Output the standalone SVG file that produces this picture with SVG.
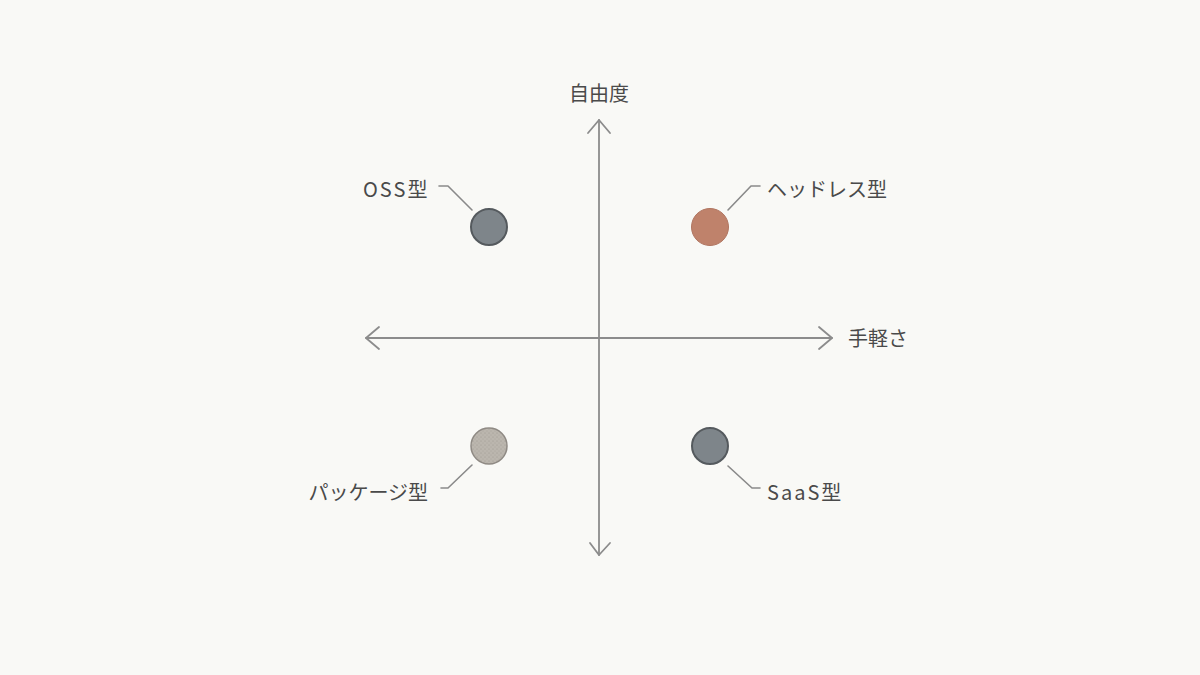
<svg xmlns="http://www.w3.org/2000/svg" width="1200" height="675" viewBox="0 0 1200 675">
<style>
.axis{stroke:#8c8c8c;stroke-width:1.8;fill:none;stroke-linecap:round;stroke-linejoin:round}
.lead{stroke:#8a8a8a;stroke-width:1.6;fill:none;stroke-linecap:round;stroke-linejoin:round}
.lbl{font-family:"Noto Sans CJK JP","Noto Sans",sans-serif;font-size:20px;fill:#4a4a4a}
.lat{letter-spacing:2px}
.dot{stroke:#555a5e;stroke-width:2}
</style>
<defs>
<pattern id="stip" width="4" height="4" patternUnits="userSpaceOnUse">
<rect width="4" height="4" fill="#bbb6ae"/>
<circle cx="1" cy="1" r="0.6" fill="#9d978f"/>
<circle cx="3" cy="3" r="0.6" fill="#a8a39b"/>
</pattern>
</defs>
<rect width="1200" height="675" fill="#f9f9f6"/>
<g id="connectors">
<path class="axis" d="M599,120 L599,555"/>
<path class="axis" d="M588,133 L599,120 L610,133"/>
<path class="axis" d="M590,543 L599,555 L610,543"/>
<path class="axis" d="M366,338 L832,338"/>
<path class="axis" d="M379,327 L366,338 L379,349"/>
<path class="axis" d="M819,327 L832,338 L819,349"/>
<path class="lead" d="M439,186 L448,186 L472,210"/>
<path class="lead" d="M760,186 L751,186 L728,210"/>
<path class="lead" d="M441,488 L448,488 L472,465"/>
<path class="lead" d="M760,488 L752,488 L728,466"/>
</g>
<g id="axis-y-label"><text class="lbl" x="599" y="101" text-anchor="middle" font-size="21">自由度</text></g>
<g id="axis-x-label"><text class="lbl" x="848" y="346" font-size="21">手軽さ</text></g>
<g id="oss">
<circle class="dot" cx="489" cy="227" r="18" fill="#7e858a"/>
<text class="lbl lat" x="363" y="197">OSS型</text>
</g>
<g id="headless">
<circle cx="710" cy="227" r="18.5" fill="#bf826b" stroke="#b07560" stroke-width="1"/>
<text class="lbl" x="767" y="197">ヘッドレス型</text>
</g>
<g id="package">
<circle cx="489" cy="446" r="18" fill="url(#stip)" stroke="#8f8a84" stroke-width="1.5"/>
<text class="lbl" x="428" y="500" text-anchor="end">パッケージ型</text>
</g>
<g id="saas">
<circle class="dot" cx="710" cy="446" r="18" fill="#7e858a"/>
<text class="lbl lat" x="767" y="500">SaaS型</text>
</g>
</svg>
